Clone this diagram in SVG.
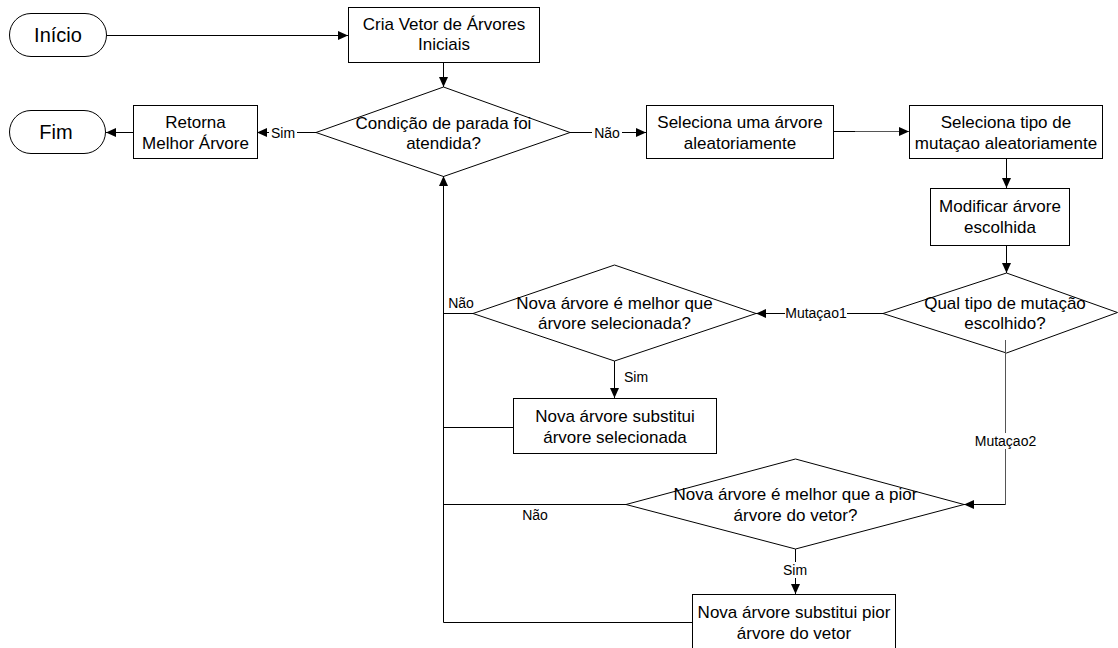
<svg xmlns="http://www.w3.org/2000/svg" width="1118" height="648" viewBox="0 0 1118 648">
<style>
.shape{fill:#fff;stroke:#000;stroke-width:1}
.t{font-family:"Liberation Sans",Arial,sans-serif;font-size:17px;fill:#000;text-anchor:middle}
.term{font-family:"Liberation Sans",Arial,sans-serif;font-size:20px;fill:#000;text-anchor:middle}
.lbl{font-family:"Liberation Sans",Arial,sans-serif;font-size:14px;fill:#000;text-anchor:middle}
.c{fill:none;stroke:#000;stroke-width:1}
.g{stroke:#555}
.bg{fill:#fff;stroke:none}
</style>
<defs>
<marker id="ah" viewBox="0 0 10 10" refX="10" refY="5" markerWidth="10" markerHeight="10" markerUnits="userSpaceOnUse" orient="auto">
<path d="M0,0.5 L10,5 L0,9.5 z" fill="#000"/>
</marker>
</defs>
<rect width="1118" height="648" fill="#fff"/>

<g id="inicio">
<rect class="shape" x="9.5" y="13.5" width="97" height="43" rx="21.5" ry="21.5"/>
<text class="term" x="58" y="42">Início</text>
</g>
<g id="cria">
<rect class="shape" x="348.5" y="7.5" width="191" height="55"/>
<text class="t" x="444" y="30">Cria Vetor de Árvores</text>
<text class="t" x="444" y="50">Iniciais</text>
</g>
<g id="condicao">
<polygon class="shape" points="443.5,87 570,132.5 443.5,176.5 316,132.5"/>
<text class="t" x="443.5" y="129">Condição de parada foi</text>
<text class="t" x="443.5" y="149">atendida?</text>
</g>
<g id="retorna">
<rect class="shape" x="133.5" y="105.5" width="124" height="53"/>
<text class="t" x="195.5" y="128">Retorna</text>
<text class="t" x="195.5" y="149">Melhor Árvore</text>
</g>
<g id="fim">
<rect class="shape" x="9.5" y="110.5" width="96" height="43" rx="21.5" ry="21.5"/>
<text class="term" x="56" y="139">Fim</text>
</g>
<g id="seleciona-arvore">
<rect class="shape" x="646.5" y="105.5" width="187" height="53"/>
<text class="t" x="740" y="128">Seleciona uma árvore</text>
<text class="t" x="740" y="149">aleatoriamente</text>
</g>
<g id="seleciona-tipo">
<rect class="shape" x="909.5" y="105.5" width="193" height="53"/>
<text class="t" x="1006" y="128">Seleciona tipo de</text>
<text class="t" x="1006" y="149">mutaçao aleatoriamente</text>
</g>
<g id="modificar">
<rect class="shape" x="930.5" y="188.5" width="139" height="57"/>
<text class="t" x="1000" y="212">Modificar árvore</text>
<text class="t" x="1000" y="233">escolhida</text>
</g>
<g id="qual-tipo">
<polygon class="shape" points="1006.5,273 1117.5,312.5 1006.5,353 883,313.5"/>
<text class="t" x="1005" y="309">Qual tipo de mutação</text>
<text class="t" x="1005" y="329">escolhido?</text>
</g>
<g id="melhor-selecionada">
<polygon class="shape" points="614.5,265 756,313.5 614.5,361 473,313.5"/>
<text class="t" x="614.5" y="309">Nova árvore é melhor que</text>
<text class="t" x="614.5" y="329">árvore selecionada?</text>
</g>
<g id="substitui-selecionada">
<rect class="shape" x="513.5" y="398.5" width="203" height="55"/>
<text class="t" x="615" y="422">Nova árvore substitui</text>
<text class="t" x="615" y="443">árvore selecionada</text>
</g>
<g id="melhor-pior">
<polygon class="shape" points="795.5,459 964,504.5 795.5,549 626,504.5"/>
<text class="t" x="795.5" y="500">Nova árvore é melhor que a pior</text>
<text class="t" x="795.5" y="521">árvore do vetor?</text>
</g>
<g id="substitui-pior">
<rect class="shape" x="692.5" y="594.5" width="203" height="70"/>
<text class="t" x="794" y="618">Nova árvore substitui pior</text>
<text class="t" x="794" y="639">árvore do vetor</text>
</g>

<g id="connectors">
<path class="c" d="M107,35.5 H348" marker-end="url(#ah)"/>
<path class="c" d="M443.5,62 V87" marker-end="url(#ah)"/>
<path class="c" d="M316,132.5 H257" marker-end="url(#ah)"/>
<path class="c" d="M133,132.5 H106" marker-end="url(#ah)"/>
<path class="c" d="M570,132.5 H646" marker-end="url(#ah)"/>
<path class="c" d="M833,131.5 H855"/>
<path class="c g" d="M855,131.5 H909" marker-end="url(#ah)"/>
<path class="c" d="M1006.5,158 V188" marker-end="url(#ah)"/>
<path class="c" d="M1006.5,245 V273" marker-end="url(#ah)"/>
<path class="c" d="M883,313.5 H756" marker-end="url(#ah)"/>
<path class="c" d="M614.5,361 V398" marker-end="url(#ah)"/>
<path class="c g" d="M1005.5,340 V504.5"/>
<path class="c" d="M1005.5,504.5 H964" marker-end="url(#ah)"/>
<path class="c" d="M795.5,549 V594" marker-end="url(#ah)"/>
<path class="c" d="M473,313.5 H443.5"/>
<path class="c" d="M513,427.5 H443.5"/>
<path class="c" d="M626,504.5 H443.5"/>
<path class="c" d="M692,622.5 H443.5 V176" marker-end="url(#ah)"/>
<rect class="bg" x="269" y="124" width="28" height="16"/>
<text class="lbl" x="283" y="137.5">Sim</text>
<rect class="bg" x="592" y="124" width="30" height="16"/>
<text class="lbl" x="607" y="137.5">Não</text>
<text class="lbl" x="461" y="308">Não</text>
<rect class="bg" x="785" y="305" width="62" height="16"/>
<text class="lbl" x="816" y="318">Mutaçao1</text>
<text class="lbl" x="636" y="382">Sim</text>
<rect class="bg" x="973" y="433" width="66" height="16"/>
<text class="lbl" x="1005.5" y="446">Mutaçao2</text>
<text class="lbl" x="535" y="520">Não</text>
<rect class="bg" x="780" y="562" width="30" height="16"/>
<text class="lbl" x="795" y="575">Sim</text>
</g>
</svg>
